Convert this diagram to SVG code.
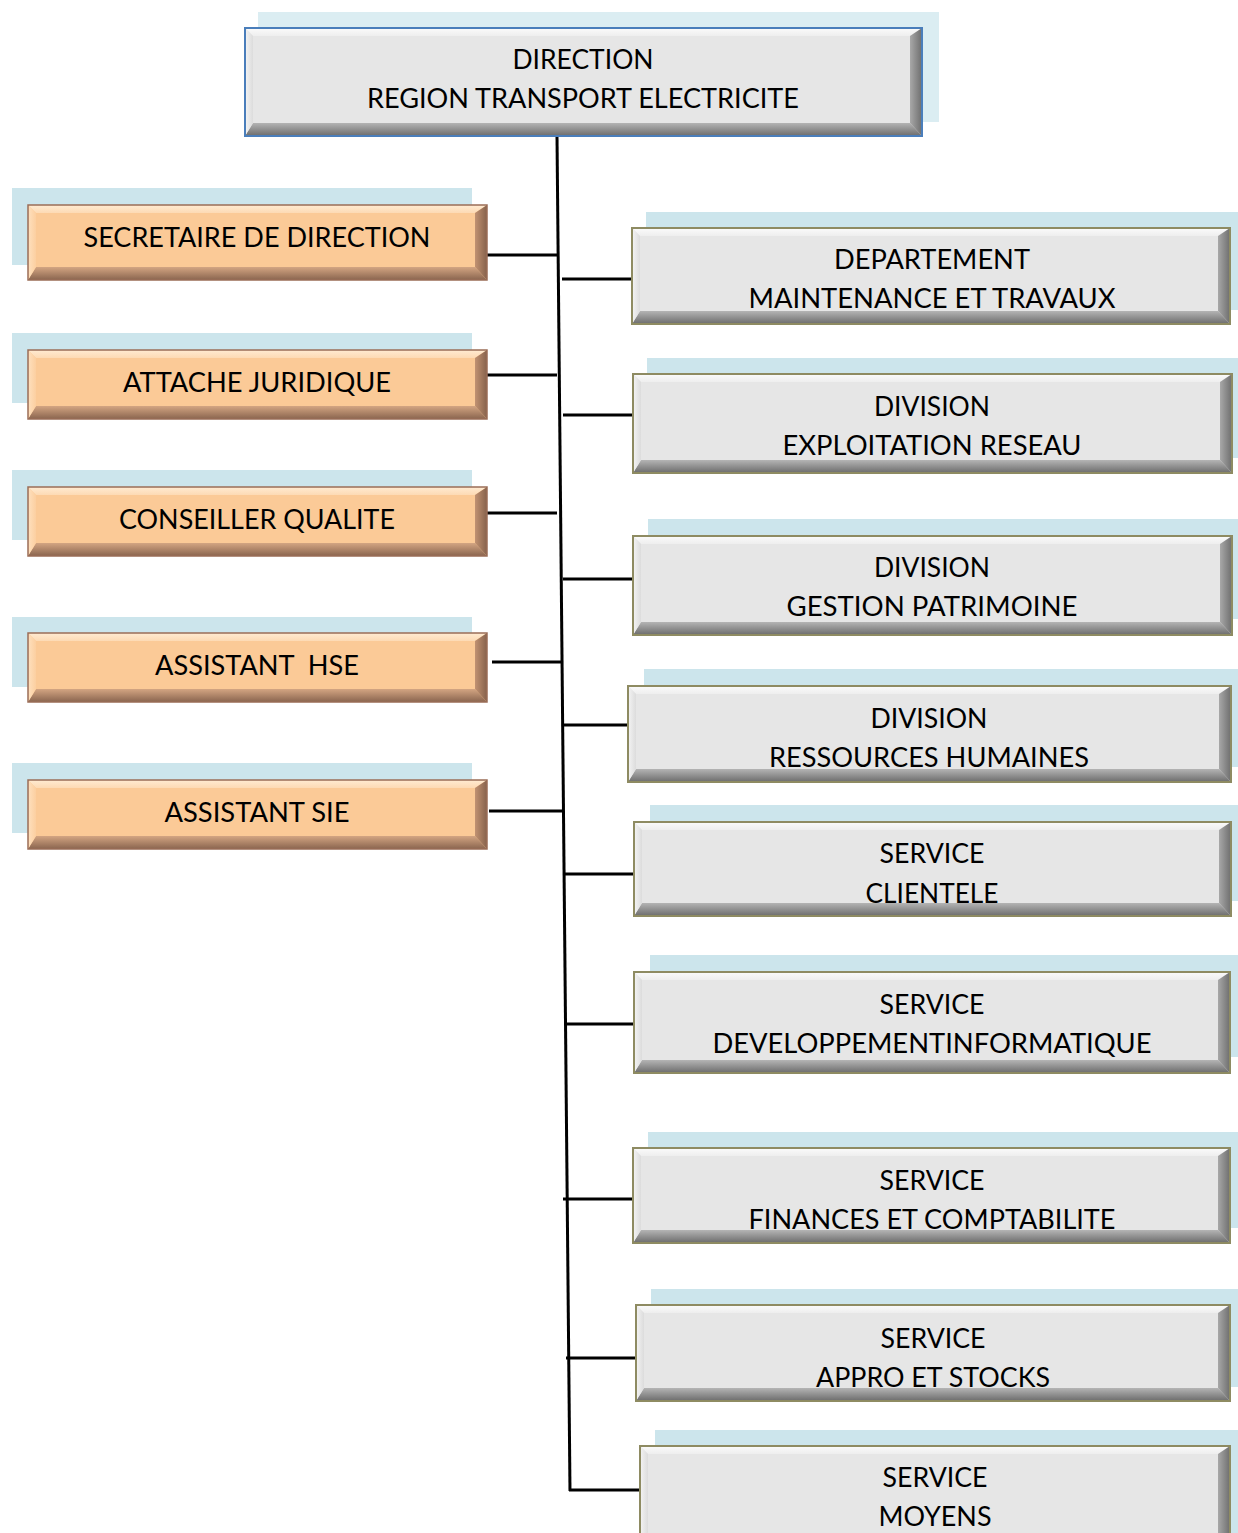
<svg xmlns="http://www.w3.org/2000/svg" width="1238" height="1533" viewBox="0 0 1238 1533">
  <defs>
    <!-- bevel shading, grey boxes -->
    <linearGradient id="gTop" x1="0" y1="0" x2="0" y2="1"><stop offset="0" stop-color="#FBFBFB"/><stop offset="1" stop-color="#EEEEEE"/></linearGradient>
    <linearGradient id="gBot" x1="0" y1="0" x2="0" y2="1"><stop offset="0" stop-color="#B4B4B4"/><stop offset="1" stop-color="#6C6C6C"/></linearGradient>
    <linearGradient id="gLeft" x1="0" y1="0" x2="1" y2="0"><stop offset="0" stop-color="#F4F4F4"/><stop offset="1" stop-color="#DCDCDC"/></linearGradient>
    <linearGradient id="gRight" x1="0" y1="0" x2="1" y2="0"><stop offset="0" stop-color="#A8A8A8"/><stop offset="1" stop-color="#6E6E6E"/></linearGradient>
    <!-- bevel shading, orange boxes -->
    <linearGradient id="oTop" x1="0" y1="0" x2="0" y2="1"><stop offset="0" stop-color="#FFEBD2"/><stop offset="1" stop-color="#FDDAB4"/></linearGradient>
    <linearGradient id="oBot" x1="0" y1="0" x2="0" y2="1"><stop offset="0" stop-color="#D3A582"/><stop offset="1" stop-color="#8A654F"/></linearGradient>
    <linearGradient id="oLeft" x1="0" y1="0" x2="1" y2="0"><stop offset="0" stop-color="#FEE0BE"/><stop offset="1" stop-color="#FCCFA0"/></linearGradient>
    <linearGradient id="oRight" x1="0" y1="0" x2="1" y2="0"><stop offset="0" stop-color="#C19272"/><stop offset="1" stop-color="#86624C"/></linearGradient>
  </defs>
  <style>
    .shadow { fill: #CCE5EC; }
    .shadow-top { fill: #DBEDF2; }
    .face-g { fill: #E6E6E6; }
    .face-o { fill: #FBCA97; }
    .edge-g { fill: none; stroke: #8E8B62; stroke-width: 2; }
    .edge-b { fill: none; stroke: #4A7EBB; stroke-width: 2; }
    .edge-o { fill: none; stroke: #9A6D57; stroke-width: 1.5; }
    .t-g { fill: url(#gTop); } .b-g { fill: url(#gBot); } .l-g { fill: url(#gLeft); } .r-g { fill: url(#gRight); }
    .t-o { fill: url(#oTop); } .b-o { fill: url(#oBot); } .l-o { fill: url(#oLeft); } .r-o { fill: url(#oRight); }
    text { font-family: Lato, "Open Sans", "Liberation Sans", sans-serif; font-size: 26px; fill: #000; text-anchor: middle; }
    .link { stroke: #000; stroke-width: 3; fill: none; }
  </style>

  <!-- connectors -->
  <g id="connectors">
    <line class="link" x1="557" y1="136" x2="570" y2="1491"/>
    <line class="link" x1="487" y1="255" x2="557" y2="255"/>
    <line class="link" x1="487" y1="375" x2="557" y2="375"/>
    <line class="link" x1="487" y1="513" x2="557" y2="513"/>
    <line class="link" x1="492" y1="662" x2="561" y2="662"/>
    <line class="link" x1="489" y1="811" x2="562" y2="811"/>
    <line class="link" x1="562" y1="279" x2="632" y2="279"/>
    <line class="link" x1="563" y1="415" x2="633" y2="415"/>
    <line class="link" x1="563" y1="579" x2="633" y2="579"/>
    <line class="link" x1="564" y1="725" x2="628" y2="725"/>
    <line class="link" x1="565" y1="874" x2="634" y2="874"/>
    <line class="link" x1="566" y1="1024" x2="634" y2="1024"/>
    <line class="link" x1="563" y1="1199" x2="633" y2="1199"/>
    <line class="link" x1="566" y1="1358" x2="636" y2="1358"/>
    <line class="link" x1="569" y1="1490" x2="640" y2="1490"/>
  </g>

  <!-- head of region -->
  <g id="direction">
    <rect class="shadow-top" x="258" y="12" width="681" height="110"/>
    <rect class="face-g" x="245" y="28" width="677" height="108"/>
    <polygon class="t-g" points="245,28 922,28 910,36 253,36"/>
    <polygon class="b-g" points="245,136 922,136 910,123 253,123"/>
    <polygon class="l-g" points="245,28 253,36 253,123 245,136"/>
    <polygon class="r-g" points="922,28 910,36 910,123 922,136"/>
    <rect class="edge-b" x="245" y="28" width="677" height="108"/>
    <text x="583" y="69" textLength="141" lengthAdjust="spacingAndGlyphs">DIRECTION</text>
    <text x="583" y="108" textLength="432" lengthAdjust="spacingAndGlyphs">REGION TRANSPORT ELECTRICITE</text>
  </g>

  <!-- staff functions (left) -->
  <g id="secretaire">
    <rect class="shadow" x="12" y="188" width="460" height="77"/>
    <rect class="face-o" x="28" y="205" width="459" height="75"/>
    <polygon class="t-o" points="28,205 487,205 475,213 36,213"/>
    <polygon class="b-o" points="28,280 487,280 475,267 36,267"/>
    <polygon class="l-o" points="28,205 36,213 36,267 28,280"/>
    <polygon class="r-o" points="487,205 475,213 475,267 487,280"/>
    <rect class="edge-o" x="28" y="205" width="459" height="75"/>
    <text x="257" y="247" textLength="347" lengthAdjust="spacingAndGlyphs">SECRETAIRE DE DIRECTION</text>
  </g>

  <g id="attache">
    <rect class="shadow" x="12" y="333" width="460" height="70"/>
    <rect class="face-o" x="28" y="350" width="459" height="69"/>
    <polygon class="t-o" points="28,350 487,350 475,358 36,358"/>
    <polygon class="b-o" points="28,419 487,419 475,406 36,406"/>
    <polygon class="l-o" points="28,350 36,358 36,406 28,419"/>
    <polygon class="r-o" points="487,350 475,358 475,406 487,419"/>
    <rect class="edge-o" x="28" y="350" width="459" height="69"/>
    <text x="257" y="392" textLength="268" lengthAdjust="spacingAndGlyphs">ATTACHE JURIDIQUE</text>
  </g>

  <g id="conseiller">
    <rect class="shadow" x="12" y="470" width="460" height="70"/>
    <rect class="face-o" x="28" y="487" width="459" height="69"/>
    <polygon class="t-o" points="28,487 487,487 475,495 36,495"/>
    <polygon class="b-o" points="28,556 487,556 475,543 36,543"/>
    <polygon class="l-o" points="28,487 36,495 36,543 28,556"/>
    <polygon class="r-o" points="487,487 475,495 475,543 487,556"/>
    <rect class="edge-o" x="28" y="487" width="459" height="69"/>
    <text x="257" y="529" textLength="276" lengthAdjust="spacingAndGlyphs">CONSEILLER QUALITE</text>
  </g>

  <g id="assistant-hse">
    <rect class="shadow" x="12" y="617" width="460" height="70"/>
    <rect class="face-o" x="28" y="633" width="459" height="69"/>
    <polygon class="t-o" points="28,633 487,633 475,641 36,641"/>
    <polygon class="b-o" points="28,702 487,702 475,689 36,689"/>
    <polygon class="l-o" points="28,633 36,641 36,689 28,702"/>
    <polygon class="r-o" points="487,633 475,641 475,689 487,702"/>
    <rect class="edge-o" x="28" y="633" width="459" height="69"/>
    <text x="257" y="675" textLength="204" lengthAdjust="spacingAndGlyphs" xml:space="preserve">ASSISTANT  HSE</text>
  </g>

  <g id="assistant-sie">
    <rect class="shadow" x="12" y="763" width="460" height="70"/>
    <rect class="face-o" x="28" y="780" width="459" height="69"/>
    <polygon class="t-o" points="28,780 487,780 475,788 36,788"/>
    <polygon class="b-o" points="28,849 487,849 475,836 36,836"/>
    <polygon class="l-o" points="28,780 36,788 36,836 28,849"/>
    <polygon class="r-o" points="487,780 475,788 475,836 487,849"/>
    <rect class="edge-o" x="28" y="780" width="459" height="69"/>
    <text x="257" y="822" textLength="185" lengthAdjust="spacingAndGlyphs">ASSISTANT SIE</text>
  </g>

  <!-- line units (right) -->
  <g id="dep-maintenance">
    <rect class="shadow" x="646" y="212" width="592" height="98"/>
    <rect class="face-g" x="632" y="228" width="598" height="96"/>
    <polygon class="t-g" points="632,228 1230,228 1218,236 640,236"/>
    <polygon class="b-g" points="632,324 1230,324 1218,311 640,311"/>
    <polygon class="l-g" points="632,228 640,236 640,311 632,324"/>
    <polygon class="r-g" points="1230,228 1218,236 1218,311 1230,324"/>
    <rect class="edge-g" x="632" y="228" width="598" height="96"/>
    <text x="932" y="269" textLength="196" lengthAdjust="spacingAndGlyphs">DEPARTEMENT</text>
    <text x="932" y="308" textLength="367" lengthAdjust="spacingAndGlyphs">MAINTENANCE ET TRAVAUX</text>
  </g>

  <g id="div-exploitation">
    <rect class="shadow" x="647" y="358" width="591" height="100"/>
    <rect class="face-g" x="633" y="374" width="599" height="99"/>
    <polygon class="t-g" points="633,374 1232,374 1220,382 641,382"/>
    <polygon class="b-g" points="633,473 1232,473 1220,460 641,460"/>
    <polygon class="l-g" points="633,374 641,382 641,460 633,473"/>
    <polygon class="r-g" points="1232,374 1220,382 1220,460 1232,473"/>
    <rect class="edge-g" x="633" y="374" width="599" height="99"/>
    <text x="932" y="416" textLength="116" lengthAdjust="spacingAndGlyphs">DIVISION</text>
    <text x="932" y="455" textLength="299" lengthAdjust="spacingAndGlyphs">EXPLOITATION RESEAU</text>
  </g>

  <g id="div-patrimoine">
    <rect class="shadow" x="648" y="519" width="590" height="100"/>
    <rect class="face-g" x="633" y="536" width="599" height="99"/>
    <polygon class="t-g" points="633,536 1232,536 1220,544 641,544"/>
    <polygon class="b-g" points="633,635 1232,635 1220,622 641,622"/>
    <polygon class="l-g" points="633,536 641,544 641,622 633,635"/>
    <polygon class="r-g" points="1232,536 1220,544 1220,622 1232,635"/>
    <rect class="edge-g" x="633" y="536" width="599" height="99"/>
    <text x="932" y="577" textLength="116" lengthAdjust="spacingAndGlyphs">DIVISION</text>
    <text x="932" y="616" textLength="291" lengthAdjust="spacingAndGlyphs">GESTION PATRIMOINE</text>
  </g>

  <g id="div-rh">
    <rect class="shadow" x="644" y="669" width="594" height="98"/>
    <rect class="face-g" x="628" y="686" width="603" height="96"/>
    <polygon class="t-g" points="628,686 1231,686 1219,694 636,694"/>
    <polygon class="b-g" points="628,782 1231,782 1219,769 636,769"/>
    <polygon class="l-g" points="628,686 636,694 636,769 628,782"/>
    <polygon class="r-g" points="1231,686 1219,694 1219,769 1231,782"/>
    <rect class="edge-g" x="628" y="686" width="603" height="96"/>
    <text x="929" y="728" textLength="117" lengthAdjust="spacingAndGlyphs">DIVISION</text>
    <text x="929" y="767" textLength="320" lengthAdjust="spacingAndGlyphs">RESSOURCES HUMAINES</text>
  </g>

  <g id="svc-clientele">
    <rect class="shadow" x="650" y="805" width="588" height="96"/>
    <rect class="face-g" x="634" y="822" width="597" height="94"/>
    <polygon class="t-g" points="634,822 1231,822 1219,830 642,830"/>
    <polygon class="b-g" points="634,916 1231,916 1219,903 642,903"/>
    <polygon class="l-g" points="634,822 642,830 642,903 634,916"/>
    <polygon class="r-g" points="1231,822 1219,830 1219,903 1231,916"/>
    <rect class="edge-g" x="634" y="822" width="597" height="94"/>
    <text x="932" y="863" textLength="105" lengthAdjust="spacingAndGlyphs">SERVICE</text>
    <text x="932" y="903" textLength="133" lengthAdjust="spacingAndGlyphs">CLIENTELE</text>
  </g>

  <g id="svc-informatique">
    <rect class="shadow" x="650" y="955" width="588" height="102"/>
    <rect class="face-g" x="634" y="972" width="596" height="101"/>
    <polygon class="t-g" points="634,972 1230,972 1218,980 642,980"/>
    <polygon class="b-g" points="634,1073 1230,1073 1218,1060 642,1060"/>
    <polygon class="l-g" points="634,972 642,980 642,1060 634,1073"/>
    <polygon class="r-g" points="1230,972 1218,980 1218,1060 1230,1073"/>
    <rect class="edge-g" x="634" y="972" width="596" height="101"/>
    <text x="932" y="1014" textLength="105" lengthAdjust="spacingAndGlyphs">SERVICE</text>
    <text x="932" y="1053" textLength="439" lengthAdjust="spacingAndGlyphs">DEVELOPPEMENTINFORMATIQUE</text>
  </g>

  <g id="svc-finances">
    <rect class="shadow" x="648" y="1132" width="590" height="96"/>
    <rect class="face-g" x="633" y="1148" width="597" height="95"/>
    <polygon class="t-g" points="633,1148 1230,1148 1218,1156 641,1156"/>
    <polygon class="b-g" points="633,1243 1230,1243 1218,1230 641,1230"/>
    <polygon class="l-g" points="633,1148 641,1156 641,1230 633,1243"/>
    <polygon class="r-g" points="1230,1148 1218,1156 1218,1230 1230,1243"/>
    <rect class="edge-g" x="633" y="1148" width="597" height="95"/>
    <text x="932" y="1190" textLength="105" lengthAdjust="spacingAndGlyphs">SERVICE</text>
    <text x="932" y="1229" textLength="367" lengthAdjust="spacingAndGlyphs">FINANCES ET COMPTABILITE</text>
  </g>

  <g id="svc-appro">
    <rect class="shadow" x="651" y="1289" width="587" height="98"/>
    <rect class="face-g" x="636" y="1305" width="594" height="96"/>
    <polygon class="t-g" points="636,1305 1230,1305 1218,1313 644,1313"/>
    <polygon class="b-g" points="636,1401 1230,1401 1218,1388 644,1388"/>
    <polygon class="l-g" points="636,1305 644,1313 644,1388 636,1401"/>
    <polygon class="r-g" points="1230,1305 1218,1313 1218,1388 1230,1401"/>
    <rect class="edge-g" x="636" y="1305" width="594" height="96"/>
    <text x="933" y="1348" textLength="105" lengthAdjust="spacingAndGlyphs">SERVICE</text>
    <text x="933" y="1387" textLength="234" lengthAdjust="spacingAndGlyphs">APPRO ET STOCKS</text>
  </g>

  <g id="svc-moyens">
    <rect class="shadow" x="655" y="1430" width="583" height="103"/>
    <rect class="face-g" x="640" y="1446" width="590" height="100"/>
    <polygon class="t-g" points="640,1446 1230,1446 1218,1454 648,1454"/>
    <polygon class="b-g" points="640,1546 1230,1546 1218,1533 648,1533"/>
    <polygon class="l-g" points="640,1446 648,1454 648,1533 640,1546"/>
    <polygon class="r-g" points="1230,1446 1218,1454 1218,1533 1230,1546"/>
    <rect class="edge-g" x="640" y="1446" width="590" height="100"/>
    <text x="935" y="1487" textLength="105" lengthAdjust="spacingAndGlyphs">SERVICE</text>
    <text x="935" y="1526" textLength="113" lengthAdjust="spacingAndGlyphs">MOYENS</text>
  </g>
</svg>
